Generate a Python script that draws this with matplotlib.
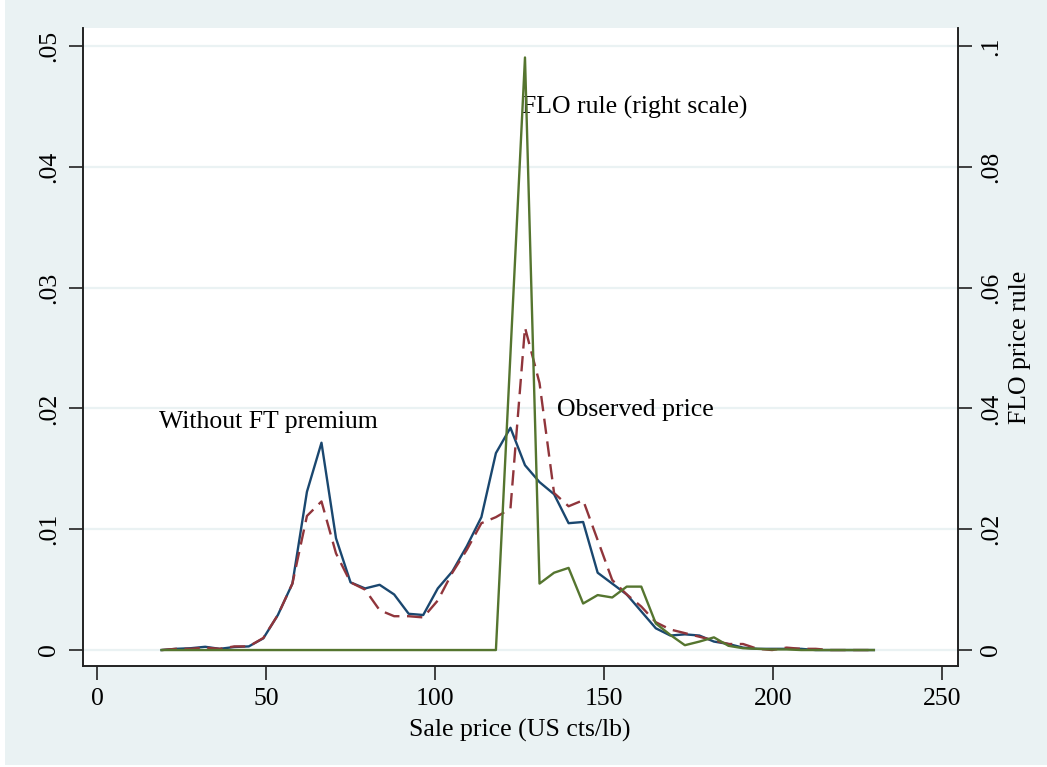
import matplotlib
matplotlib.use("Agg")
import matplotlib.pyplot as plt
from matplotlib.patches import Rectangle

# sale price bins (US cts/lb)
price = [19.1, 23.4, 27.7, 32.0, 36.3, 40.6, 44.9, 49.2, 53.5, 57.8,
         62.1, 66.4, 70.7, 75.0, 79.3, 83.6, 87.9, 92.2, 96.5, 100.8,
         105.1, 109.4, 113.7, 118.0, 122.3, 126.6, 130.9, 135.2, 139.5, 143.8,
         148.1, 152.4, 156.7, 161.0, 165.3, 169.6, 173.9, 178.2, 182.5, 186.8,
         191.1, 195.4, 199.7, 204.0, 208.3, 212.6, 216.9, 221.2, 225.5, 229.8]

# density without FT premium (left scale)
without_ft = [0.0, 0.0001, 0.00015, 0.00027, 0.0001, 0.00025, 0.0003, 0.00097, 0.0029, 0.0055,
              0.0131, 0.01716, 0.00925, 0.0056, 0.0051, 0.0054, 0.0046, 0.0030, 0.0029, 0.0051,
              0.0065, 0.0086, 0.0110, 0.0163, 0.0184, 0.0153, 0.0139, 0.0129, 0.0105, 0.0106,
              0.0064, 0.0055, 0.0046, 0.0032, 0.0018, 0.0012, 0.0013, 0.0012, 0.0007, 0.0005,
              0.0002, 0.0001, 0.0001, 0.0001, 0.0001, 0.0, 0.0, 0.0, 0.0, 0.0]

# density of observed price (left scale)
observed = [0.0, 0.0001, 0.0001, 0.0002, 0.0001, 0.0003, 0.0003, 0.0010, 0.0029, 0.0055,
            0.0111, 0.0123, 0.0080, 0.0056, 0.0050, 0.0033, 0.0028, 0.0028, 0.0027, 0.0041,
            0.0064, 0.0083, 0.0105, 0.0110, 0.0117, 0.0267, 0.0221, 0.0130, 0.0119, 0.0124,
            0.0091, 0.0058, 0.0046, 0.0036, 0.0023, 0.0017, 0.0014, 0.0011, 0.0008, 0.0005,
            0.0005, 0.0001, 0.0, 0.0002, 0.0001, 0.0001, 0.0, 0.0, 0.0, 0.0]

# FLO price rule (right scale)
flo_rule = [0.0, 0.0, 0.0, 0.0, 0.0, 0.0, 0.0, 0.0, 0.0, 0.0,
            0.0, 0.0, 0.0, 0.0, 0.0, 0.0, 0.0, 0.0, 0.0, 0.0,
            0.0, 0.0, 0.0, 0.0, 0.0490, 0.0981, 0.0110, 0.0128, 0.0136, 0.0077,
            0.0091, 0.0087, 0.0105, 0.0105, 0.0044, 0.0025, 0.0008, 0.0014, 0.0021, 0.0007,
            0.0003, 0.0002, 0.0001, 0.0001, 0.0, 0.0, 0.0, 0.0, 0.0, 0.0]

left_ticks = [0, 0.01, 0.02, 0.03, 0.04, 0.05]
left_labels = ["0", ".01", ".02", ".03", ".04", ".05"]
right_ticks = [0, 0.02, 0.04, 0.06, 0.08, 0.1]
right_labels = ["0", ".02", ".04", ".06", ".08", ".1"]
x_ticks = [0, 50, 100, 150, 200, 250]

BG = "#EAF2F3"
NAVY = "#1a476f"
MAROON = "#90353b"
GREEN = "#55752f"
DARK = "#222222"

plt.rcParams["font.family"] = ["Liberation Serif", "DejaVu Serif"]
plt.rcParams["font.size"] = 18.5

fig = plt.figure(figsize=(10.47, 7.67), dpi=100, facecolor="white")
fig.patches.append(Rectangle((5 / 1047, 0.003), 1 - 5 / 1047, 0.997,
                             transform=fig.transFigure, facecolor=BG,
                             edgecolor="none", zorder=-10))

ax = fig.add_axes([0.079, 0.1317, 0.8357, 0.8318])
ax.set_facecolor("white")
ax.set_xlim(-4.23, 254.6)
ax.set_ylim(-0.00132, 0.05149)

for y in left_ticks:
    ax.axhline(y, color=BG, lw=1.6, zorder=0)

ax.plot(price, without_ft, color=NAVY, lw=1.7, zorder=3)
ax.plot(price, observed, color=MAROON, lw=1.7, ls=(0, (6.5, 3.2)), zorder=4)

ax.set_xticks(x_ticks)
ax.set_xticklabels([str(t) for t in x_ticks])
ax.set_yticks(left_ticks)
ax.set_yticklabels(left_labels, rotation=90, va="center")
ax.set_xlabel("Sale price (US cts/lb)", labelpad=6)

ax2 = ax.twinx()
ax2.set_ylim(-0.00264, 0.10298)
ax2.plot(price, flo_rule, color=GREEN, lw=1.7, zorder=5)
ax2.set_yticks(right_ticks)
ax2.set_yticklabels(right_labels, rotation=90, va="center")
ax2.set_ylabel("FLO price rule", labelpad=5)

for a in (ax, ax2):
    a.spines["top"].set_visible(False)
    for s in ("left", "right", "bottom"):
        a.spines[s].set_color(DARK)
        a.spines[s].set_linewidth(1.2)
    a.tick_params(axis="both", direction="out", length=10, width=1.2,
                  color=DARK, pad=6)

ax.text(50.6, 0.0189, "Without FT premium", ha="center", va="center")
ax.text(136.1, 0.0199, "Observed price", ha="left", va="center")
ax.text(125.7, 0.0449, "FLO rule (right scale)", ha="left", va="center", zorder=6)

fig.savefig("out.png", dpi=100, facecolor=fig.get_facecolor())
